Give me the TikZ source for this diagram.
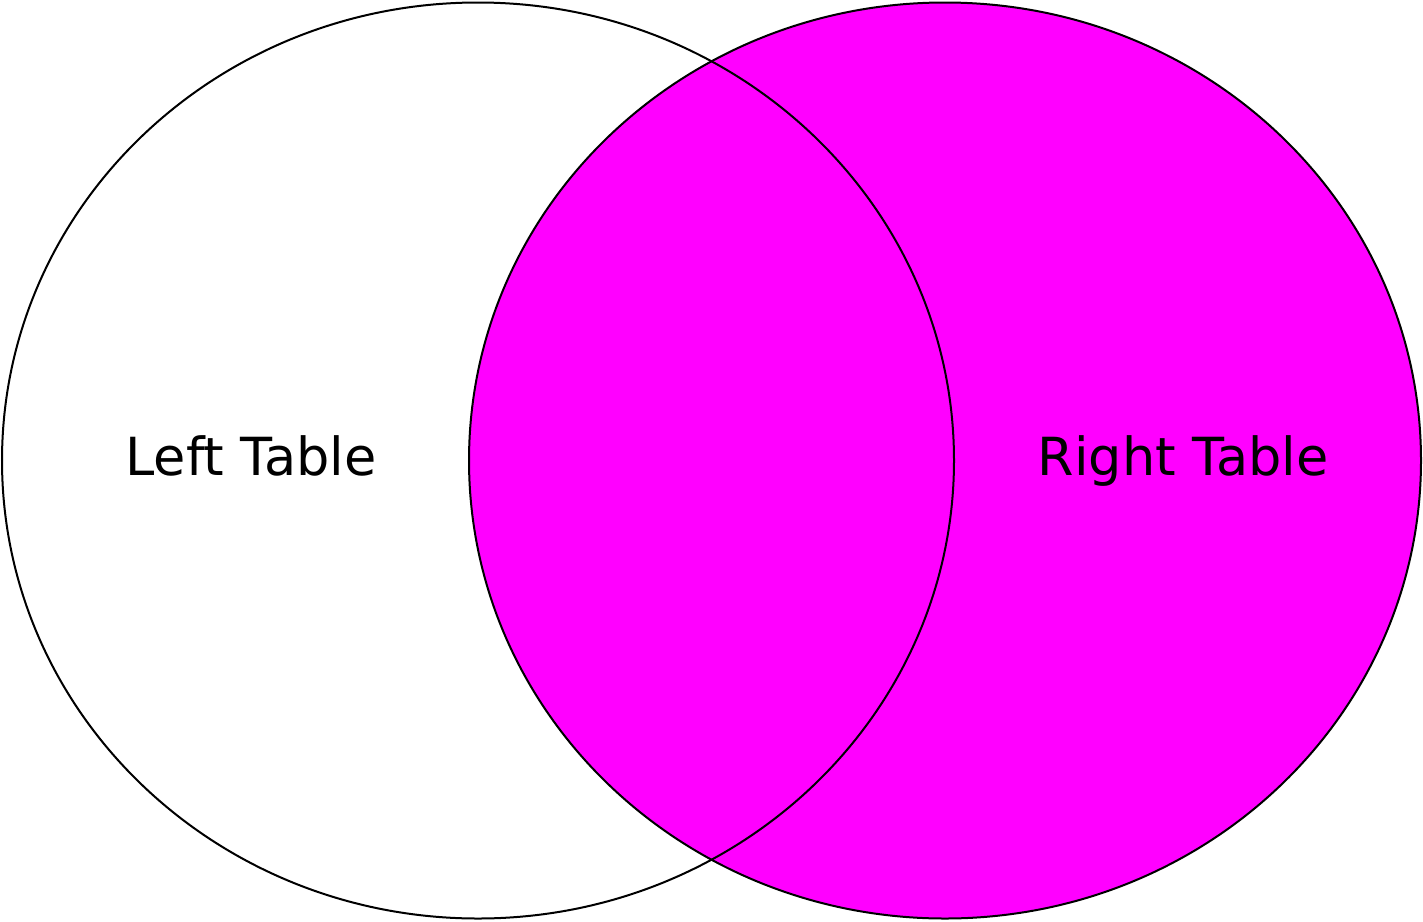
\documentclass[tikz,border=0pt]{standalone}
\usepackage{fontspec}
\setmainfont{DejaVu Sans}
\definecolor{venn}{RGB}{255,0,255}
\begin{document}
\begin{tikzpicture}[x=1pt,y=-1pt,
  setshape/.style={line width=2pt},
  lbl/.style={font=\fontsize{52.5}{60}\selectfont, anchor=base, inner sep=0pt}]
\useasboundingbox (0,0) rectangle (1423,921);
\path[setshape, fill=venn, draw=black] (945,460.5) ellipse [x radius=476, y radius=458];
\path[setshape, draw=black] (478,460.5) ellipse [x radius=476, y radius=458];
\node[lbl] (left) at (251,475) {Left Table};
\node[lbl] (right) at (1183,475) {Right Table};
\end{tikzpicture}
\end{document}
